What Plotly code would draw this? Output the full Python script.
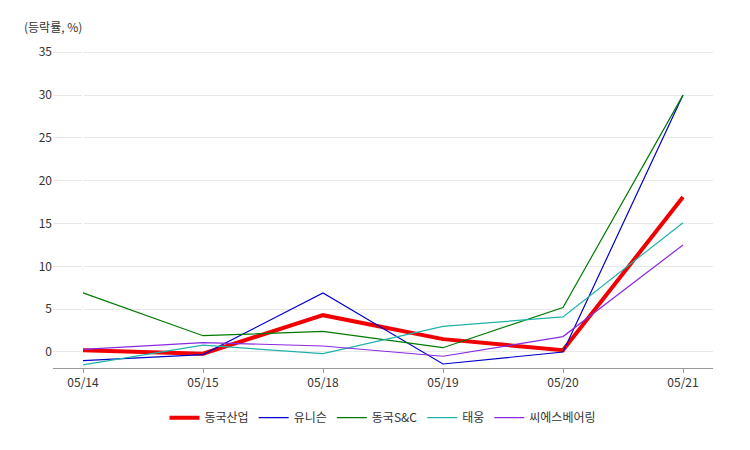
import plotly.graph_objects as go

dates = ["05/14", "05/15", "05/18", "05/19", "05/20", "05/21"]
names = ["동국산업", "유니슨", "동국S&C", "태웅", "씨에스베어링"]
s1 = [0.2, -0.2, 4.3, 1.5, 0.2, 18.1]
s2 = [-1.0, -0.3, 6.9, -1.4, 0.0, 30.0]
s3 = [6.9, 1.9, 2.4, 0.5, 5.2, 30.0]
s4 = [-1.5, 0.8, -0.2, 3.0, 4.1, 15.1]
s5 = [0.3, 1.1, 0.7, -0.5, 1.8, 12.5]
series = [s1, s2, s3, s4, s5]
colors = ["#f00000", "#0000cc", "#007a00", "#20b2aa", "#8a2be2"]
widths = [4, 1.2, 1.2, 1.2, 1.2]

xs = list(range(len(dates)))
fig = go.Figure()
for n, s, c, w in zip(names, series, colors, widths):
    fig.add_trace(go.Scatter(x=xs, y=s, name=n, mode="lines", line=dict(color=c, width=w)))

fig.update_layout(
    width=750, height=450, paper_bgcolor="white", plot_bgcolor="white",
    margin=dict(l=45, r=45, t=40, b=90, autoexpand=False),
    font=dict(family="Noto Sans CJK KR", size=12, color="#333"),
    legend=dict(orientation="h", x=0.5, xanchor="center", y=-0.11, yanchor="top", font=dict(size=12)),
    xaxis=dict(range=[-0.25, 5.25], tickvals=xs, ticktext=dates, showgrid=False, automargin=False,
               showline=True, linecolor="#999", linewidth=1, ticks="outside", ticklen=4, tickcolor="#999"),
    yaxis=dict(range=[-1.87, 35.5], tickvals=[0, 5, 10, 15, 20, 25, 30, 35], showgrid=True,
               automargin=False, gridcolor="#e8e8e8", zeroline=False),
    annotations=[dict(text="(등락률, %)", xref="paper", yref="paper", x=-0.047, y=1.035,
                      xanchor="left", yanchor="bottom", showarrow=False, font=dict(size=12))],
)
fig.write_html("out.html")
